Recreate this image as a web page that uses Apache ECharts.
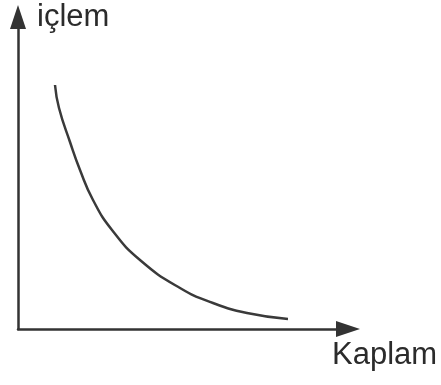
<!DOCTYPE html>
<html>
<head>
<meta charset="utf-8">
<script src="https://cdn.jsdelivr.net/npm/echarts@6/dist/echarts.min.js"></script>
<style>
  html, body { margin: 0; padding: 0; background: #fff; }
  #main { width: 441px; height: 385px; }
</style>
</head>
<body>
<div id="main"></div>
<script>
// okunan noktalar (kaplam -> içlem)
var kaplam = [37, 41, 52, 62, 75, 94, 122, 162, 195, 229, 270];
var iclem = [244, 221, 187, 159, 129, 99, 69, 41, 26, 16, 10];
var xName = 'Kaplam';
var yName = 'içlem';

var chart = echarts.init(document.getElementById('main'));

var points = kaplam.map(function (k, i) {
  return [k, iclem[i]];
});

var axisCommon = {
  type: 'value',
  min: 0,
  axisLine: {
    show: true,
    symbol: ['none', 'triangle'],
    symbolSize: [16, 24],
    lineStyle: { color: '#333', width: 2.5 }
  },
  axisTick: { show: false },
  axisLabel: { show: false },
  splitLine: { show: false }
};

var option = {
  backgroundColor: '#fff',
  animation: false,
  grid: { left: 18, right: 93, top: 17, bottom: 56 },
  xAxis: Object.assign({}, axisCommon, { max: 330 }),
  yAxis: Object.assign({}, axisCommon, { max: 312 }),
  series: [{
    type: 'line',
    data: points,
    smooth: 0.5,
    showSymbol: false,
    lineStyle: { color: '#3a3a3a', width: 2.5 }
  }],
  graphic: [
    {
      type: 'text',
      left: 37,
      top: 2,
      style: {
        text: yName,
        font: '31px "Liberation Sans", Arial, sans-serif',
        fill: '#2b2b2b'
      }
    },
    {
      type: 'text',
      left: 332,
      top: 340,
      style: {
        text: xName,
        font: '31px "Liberation Sans", Arial, sans-serif',
        fill: '#2b2b2b'
      }
    }
  ]
};

chart.setOption(option);
</script>
</body>
</html>
